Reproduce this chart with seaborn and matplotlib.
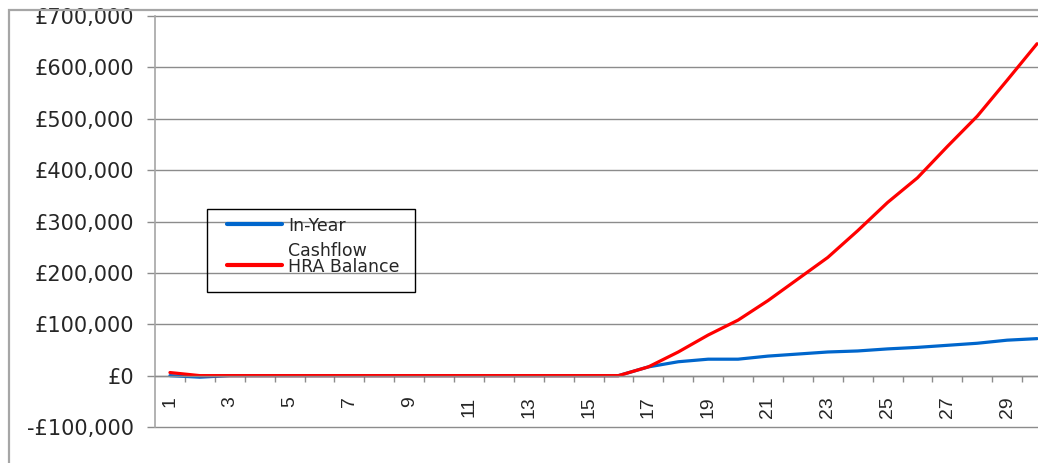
import matplotlib
matplotlib.use("Agg")
import matplotlib.pyplot as plt
import matplotlib.patches as mpatches
from matplotlib.ticker import FixedLocator, FuncFormatter
import numpy as np
import pandas as pd
import seaborn as sns

# Year index and the two HRA series (GBP)
years = list(range(1, 31))
in_year_cashflow = [0, -3000, 0, 0, 0, 0, 0, 0, 0, 0,
                    0, 0, 0, 0, 0, 0, 17000, 27000, 32000, 32000,
                    38000, 42000, 46000, 48000, 52000, 55000, 59000, 63000, 69000, 72000]
hra_balance = [6000, 0, 0, 0, 0, 0, 0, 0, 0, 0,
               0, 0, 0, 0, 0, 0, 17000, 46000, 79000, 108000,
               146000, 188000, 230000, 282000, 337000, 385000, 446000, 505000, 575000, 646000]
series_names = ["In-Year\nCashflow", "HRA Balance"]
series_colors = ["#0066CC", "#FF0000"]
y_ticks = [-100000, 0, 100000, 200000, 300000, 400000, 500000, 600000, 700000]
x_tick_labels = [str(y) for y in years[::2]]

df = pd.DataFrame({
    "Year": years * 2,
    "Value": in_year_cashflow + hra_balance,
    "Series": [series_names[0]] * len(years) + [series_names[1]] * len(years),
})

sns.set_theme(style="white")
plt.rcParams["font.family"] = ["DejaVu Sans"]

W, H = 1038, 463
fig = plt.figure(figsize=(W / 100, H / 100), dpi=100)
fig.patch.set_facecolor("white")

# plot area: category axis with 30 slots
left_px, top_px, bottom_px = 155, 16, 427
slot_px = 29.9
ax = fig.add_axes([left_px / W, (H - bottom_px) / H,
                   30 * slot_px / W, (bottom_px - top_px) / H])

sns.lineplot(data=df, x="Year", y="Value", hue="Series",
             palette=dict(zip(series_names, series_colors)),
             linewidth=2.3, ax=ax, legend=True)

ax.set_xlim(0.5, 30.5)
ax.set_ylim(y_ticks[0], y_ticks[-1])
ax.set_xlabel("")
ax.set_ylabel("")

grid_col = "#8C8C8C"
ax.yaxis.set_major_locator(FixedLocator(y_ticks))
ax.yaxis.set_major_formatter(FuncFormatter(
    lambda v, p: ("-£{:,.0f}".format(-v) if v < 0 else "£{:,.0f}".format(v))))
ax.grid(axis="y", color=grid_col, linewidth=1.0)
ax.grid(axis="x", visible=False)
ax.set_axisbelow(True)
for gl in ax.get_ygridlines():
    gl.set_clip_on(False)

for s in ("top", "right"):
    ax.spines[s].set_visible(False)
ax.spines["left"].set_color("#A6A6A6")
ax.spines["left"].set_linewidth(1.2)
ax.spines["bottom"].set_position(("data", 0))
ax.spines["bottom"].set_color(grid_col)
ax.spines["bottom"].set_linewidth(1.0)

ax.tick_params(axis="y", which="major", direction="out", length=6, width=1,
               color=grid_col, pad=9, labelsize=15, left=True)
for lab in ax.get_yticklabels():
    lab.set_fontfamily("DejaVu Sans")

# labels on every other year, tick marks between categories
ax.xaxis.set_major_locator(FixedLocator(years[::2]))
ax.set_xticklabels(x_tick_labels, rotation=90, fontfamily="Liberation Sans", fontsize=14)
ax.xaxis.set_minor_locator(FixedLocator(np.arange(1.5, 30.5, 1.0)))
ax.tick_params(axis="x", which="major", length=0, pad=15, bottom=True)
ax.tick_params(axis="x", which="minor", direction="out", length=4, width=1,
               color=grid_col, bottom=True)

# legend entries; the box around them is drawn separately below
handles, labels = ax.get_legend_handles_labels()
leg = ax.legend(handles, labels, loc="upper left",
                bbox_to_anchor=(227 / W, 1 - 217 / H), bbox_transform=fig.transFigure,
                frameon=False, borderaxespad=0, borderpad=0,
                fontsize=12.5, handlelength=3.17, handletextpad=0.35,
                labelspacing=-0.12)
for t in leg.get_texts():
    t.set_linespacing(1.5)
# keys line up with the first line of each label
key_shift_pt = [11.0, 0.5]
for h, dy in zip(leg.legend_handles, key_shift_pt):
    h.set_linewidth(3.0)
    h.set_ydata([v + dy for v in h.get_ydata()])

fig.add_artist(mpatches.Rectangle((207 / W, 1 - 292 / H), 208 / W, 83 / H,
                                  transform=fig.transFigure, fill=False,
                                  edgecolor="black", linewidth=1.0))

# outer chart-area border
fig.add_artist(mpatches.Rectangle((9 / W, -0.5), 2.0, 0.5 + 1 - 10 / H,
                                  transform=fig.transFigure, fill=False,
                                  edgecolor="#A6A6A6", linewidth=1.6))

fig.savefig("out.png", dpi=100)
